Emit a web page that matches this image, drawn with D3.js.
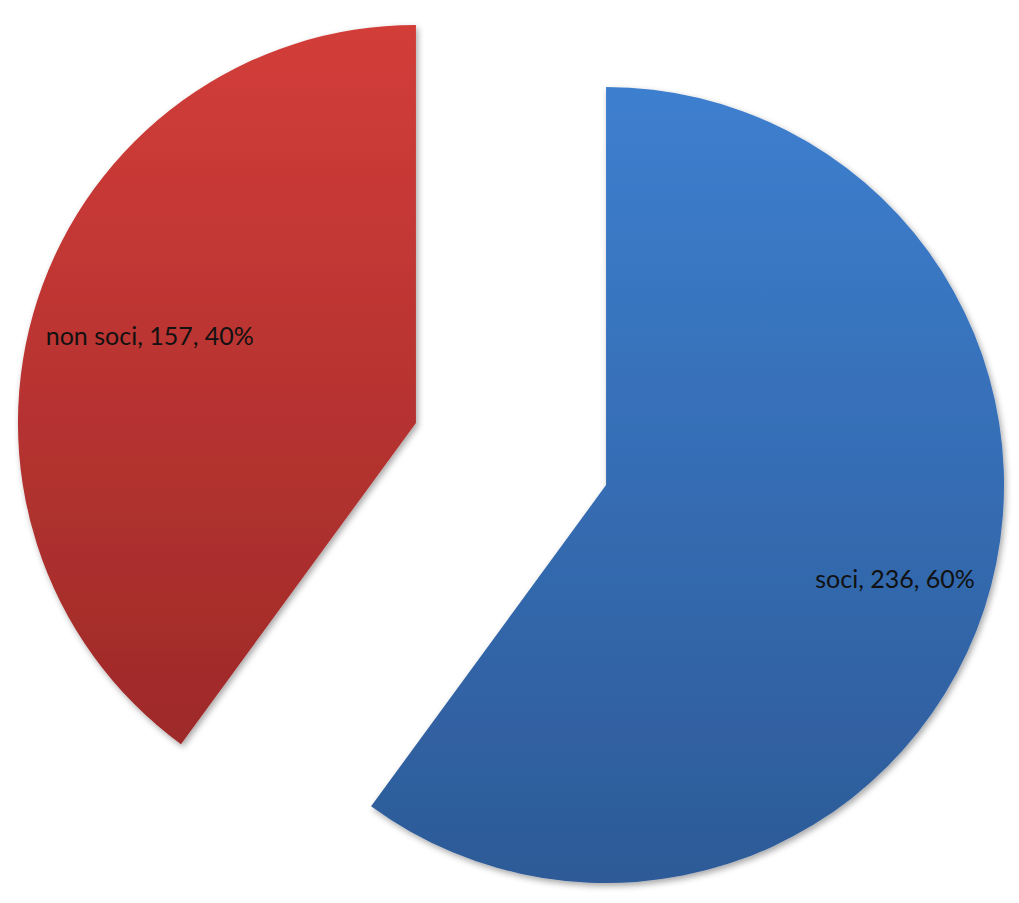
<!DOCTYPE html>
<html><head><meta charset="utf-8">
<script src="https://cdn.jsdelivr.net/npm/d3@7"></script>
<style>body{margin:0;background:#fff;}svg{display:block;}</style>
</head><body>
<script>
const categories = ["soci", "non soci"];
const values = [236, 157];
const percents = ["60%", "40%"];
const colorsTop = ["#3D7FCF", "#D23D39"];
const colorsBottom = ["#2D5A97", "#9E2A29"];

const W = 1019, H = 903;
const cx = 511, cy = 454, R = 398, explode = 100, labelMargin = 14;

const svg = d3.select("body").append("svg").attr("width", W).attr("height", H);
const defs = svg.append("defs");
const f = defs.append("filter").attr("id","sh").attr("x","-10%").attr("y","-10%").attr("width","120%").attr("height","120%");
f.append("feDropShadow").attr("dx",2).attr("dy",3).attr("stdDeviation",3).attr("flood-color","#000").attr("flood-opacity",0.35);

categories.forEach((c,i)=>{
  const g = defs.append("linearGradient").attr("id","g"+i).attr("x1",0).attr("y1",0).attr("x2",0).attr("y2",1);
  g.append("stop").attr("offset","0%").attr("stop-color",colorsTop[i]);
  g.append("stop").attr("offset","100%").attr("stop-color",colorsBottom[i]);
});

const pie = d3.pie().sort(null).value(d=>d)(values);
const arc = d3.arc().innerRadius(0).outerRadius(R);

const root = svg.append("g").attr("transform",`translate(${cx},${cy})`);
pie.forEach((p,i)=>{
  const mid = (p.startAngle+p.endAngle)/2;
  const ux = Math.sin(mid), uy = -Math.cos(mid);
  const g = root.append("g").attr("transform",`translate(${ux*explode},${uy*explode})`);
  g.append("path").attr("d",arc(p)).attr("fill",`url(#g${i})`).attr("filter","url(#sh)");
  const t = g.append("text").attr("text-anchor","middle").attr("dy","0.35em")
    .attr("font-family","Lato, 'Open Sans', sans-serif").attr("font-size",25)
    .attr("fill","#111")
    .text(`${categories[i]}, ${values[i]}, ${percents[i]}`);
  const bb = t.node().getBBox();
  const hw = bb.width/2, hh = 12;
  // inside-end: push label outward along mid ray until its far corner reaches R - margin
  let d = 0;
  for (let s = 0; s < R; s += 1) {
    const fx = ux*s + Math.sign(ux)*hw, fy = uy*s + Math.sign(uy)*hh;
    if (Math.hypot(fx,fy) > R - labelMargin) break;
    d = s;
  }
  t.attr("x", ux*d).attr("y", uy*d);
});
</script>
</body></html>
